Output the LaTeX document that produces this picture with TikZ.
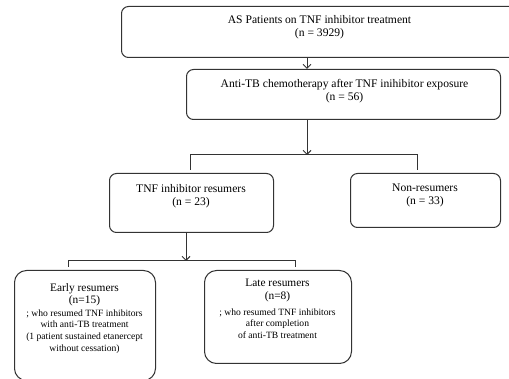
\documentclass[tikz,border=0pt]{standalone}
\usepackage{fontspec}
\setmainfont{Liberation Serif}
\usetikzlibrary{arrows.meta}
\begin{document}
\begin{tikzpicture}[x=1pt,y=-1pt,
  box/.style={draw=black!80,line width=1pt,rounded corners=7pt,anchor=north west,inner sep=0pt},
  bigbox/.style={box,rounded corners=12pt},
  txt/.style={align=center,font=\fontsize{11.6}{13}\selectfont,inner sep=0pt,anchor=north},
  big/.style={align=center,font=\fontsize{11.4}{12.5}\selectfont,inner sep=0pt,anchor=north},
  small/.style={align=center,font=\fontsize{9.6}{11.6}\selectfont,inner sep=0pt,anchor=north},
  ln/.style={draw=black!80,line width=1pt},
  arr/.style={ln,-{Straight Barb[length=4pt,width=8pt]}}]
\useasboundingbox (0,0) rectangle (509,379);
% boxes
\node[box,minimum width=395pt,minimum height=51pt] (b1) at (121,6) {};
\node[box,minimum width=314pt,minimum height=50pt] (b2) at (186,69) {};
\node[box,minimum width=164pt,minimum height=59pt] (b3) at (109,173) {};
\node[box,minimum width=150pt,minimum height=54pt] (b4) at (350,173) {};
\node[bigbox,minimum width=141pt,minimum height=110pt] (b5) at (14,270) {};
\node[bigbox,minimum width=147pt,minimum height=93pt] (b6) at (204,270) {};
% texts
\node[txt] (t1) at (319.5,15.5) {AS Patients on TNF inhibitor treatment\\(n = 3929)};
\node[txt] (t2) at (344.5,79) {Anti-TB chemotherapy after TNF inihibitor exposure\\(n = 56)};
\node[txt] (t3) at (191,184) {TNF inhibitor resumers\\(n = 23)};
\node[txt] (t4) at (425,184) {Non-resumers\\(n = 33)};
\node[big] (t5a) at (84.5,283) {Early resumers\\(n=15)};
\node[small] (t5b) at (84.5,309.4) {; who resumed TNF inhibitors\\with anti-TB treatment\\(1 patient sustained etanercept\\without cessation)};
\node[big] (t6a) at (277.5,279) {Late resumers\\(n=8)};
\node[small] (t6b) at (277.5,308.4) {; who resumed TNF inhibitors\\after completion\\of anti-TB treatment};
% connectors
\coordinate (a1) at (b1.south -| 307,0);
\draw[arr] (a1) -- (a1 |- b2.north);
\coordinate (a2) at (b2.south -| 307,0);
\coordinate (j1) at (307,155);
\draw[arr] (a2) -- (j1);
\coordinate (l1) at (190,170);
\coordinate (r1) at (417,170);
\draw[ln] (l1) -- (l1 |- j1) -- (r1 |- j1) -- (r1);
\coordinate (a3) at (b3.south -| 186,0);
\coordinate (j2) at (186,261);
\draw[arr] (a3) -- (j2);
\coordinate (l2) at (68,267);
\coordinate (r2) at (295,267);
\draw[ln] (l2) -- (l2 |- j2) -- (r2 |- j2) -- (r2);
\end{tikzpicture}
\end{document}
